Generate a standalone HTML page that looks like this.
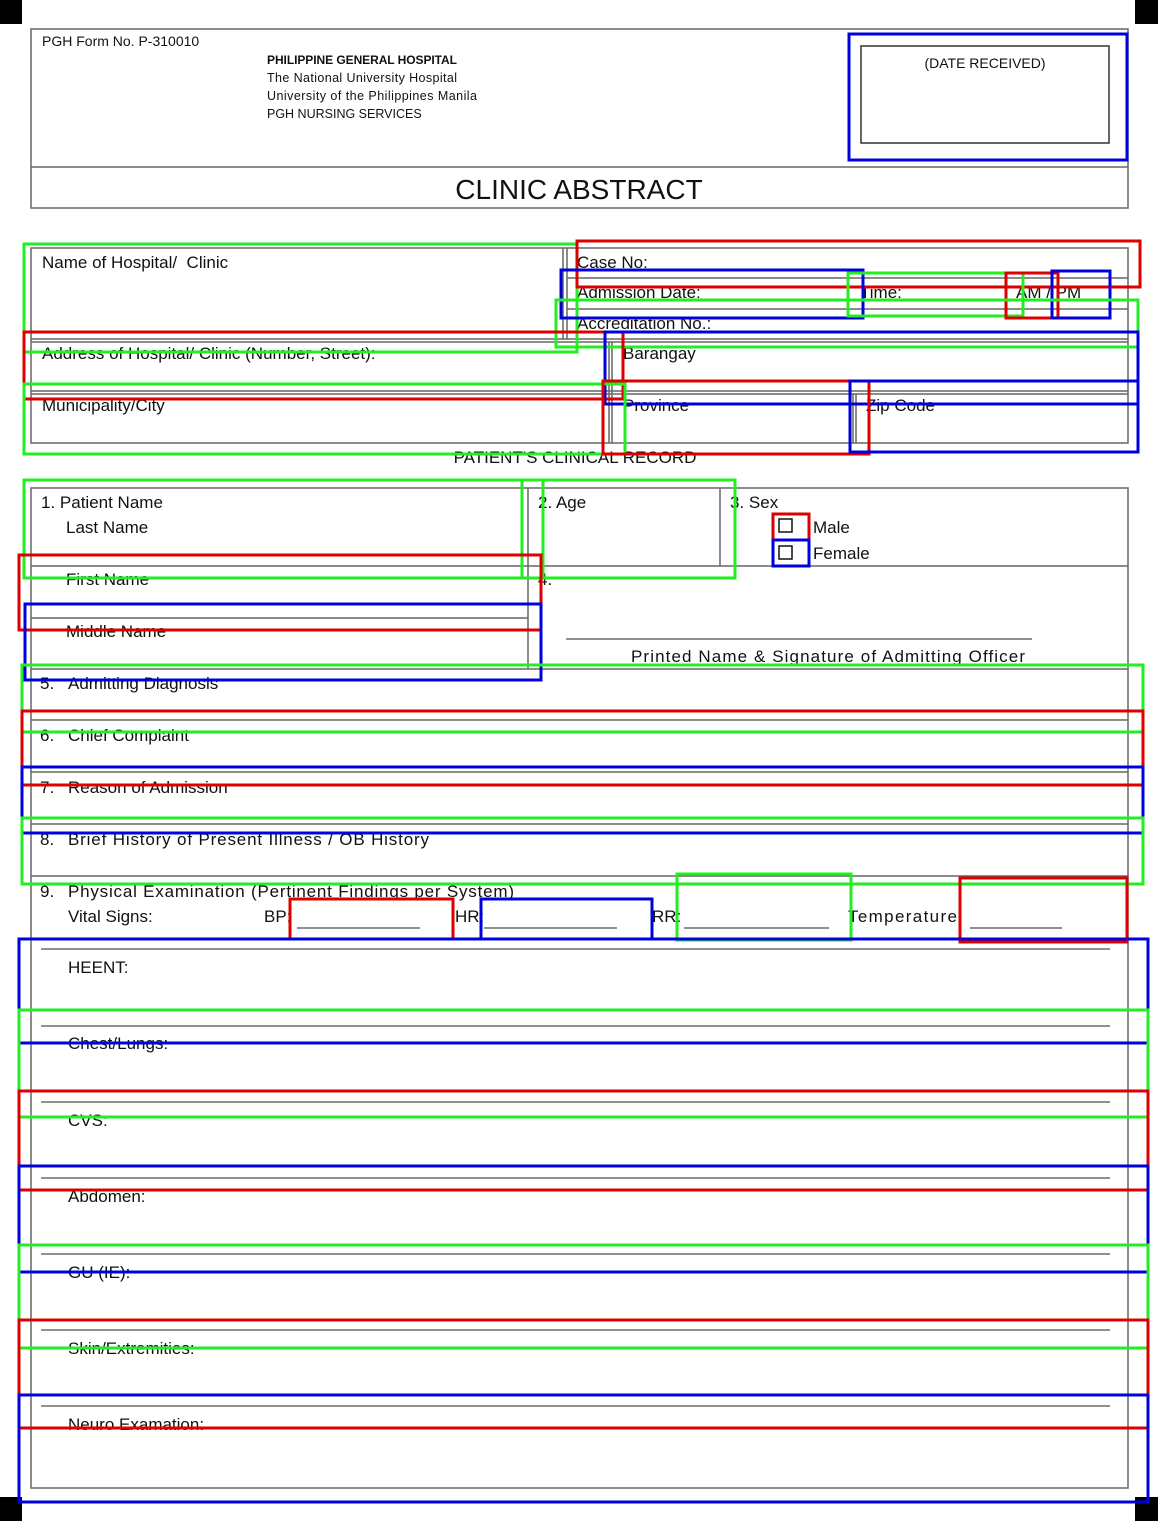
<!DOCTYPE html>
<html><head><meta charset="utf-8"><style>
html,body{margin:0;padding:0;background:#fff}
svg{display:block}
text{font-family:"Liberation Sans",sans-serif;fill:#111}
</style></head><body>
<svg width="1158" height="1521" viewBox="0 0 1158 1521" xmlns="http://www.w3.org/2000/svg">
<rect x="0" y="0" width="22" height="24" fill="#000"/>
<rect x="1135" y="0" width="23" height="24" fill="#000"/>
<rect x="0" y="1497" width="22" height="24" fill="#000"/>
<rect x="1135" y="1497" width="23" height="24" fill="#000"/>
<g fill="none" stroke="#666" stroke-width="1.5">
<rect x="31" y="29" width="1097" height="179"/>
<line x1="31" y1="167" x2="1128" y2="167"/>
<rect x="861" y="46" width="248" height="97" stroke="#333"/>
<rect x="31" y="248" width="1097" height="195"/>
<line x1="563" y1="248" x2="563" y2="339"/><line x1="567" y1="248" x2="567" y2="339"/>
<line x1="567" y1="278" x2="1128" y2="278"/><line x1="567" y1="309" x2="1128" y2="309"/>
<line x1="31" y1="339" x2="1128" y2="339"/><line x1="31" y1="342" x2="1128" y2="342"/>
<line x1="31" y1="391" x2="1128" y2="391"/><line x1="31" y1="394" x2="1128" y2="394"/>
<line x1="609" y1="342" x2="609" y2="443"/><line x1="612" y1="342" x2="612" y2="443"/>
<line x1="853" y1="394" x2="853" y2="443"/><line x1="856" y1="394" x2="856" y2="443"/>
<rect x="31" y="488" width="1097" height="1000"/>
<line x1="528" y1="488" x2="528" y2="669"/><line x1="720" y1="488" x2="720" y2="566"/>
<line x1="31" y1="566" x2="1128" y2="566"/>
<line x1="31" y1="618" x2="528" y2="618"/>
<line x1="31" y1="669" x2="1128" y2="669"/>
<line x1="31" y1="720" x2="1128" y2="720"/>
<line x1="31" y1="772" x2="1128" y2="772"/>
<line x1="31" y1="824" x2="1128" y2="824"/>
<line x1="31" y1="876" x2="1128" y2="876"/>
</g>
<g stroke="#222" stroke-width="1">
<line x1="566" y1="639" x2="1032" y2="639"/>
<line x1="297" y1="928" x2="420" y2="928"/>
<line x1="484" y1="928" x2="617" y2="928"/>
<line x1="684" y1="928" x2="829" y2="928"/>
<line x1="970" y1="928" x2="1062" y2="928"/>
<line x1="41" y1="949" x2="1110" y2="949"/>
<line x1="41" y1="1026" x2="1110" y2="1026"/>
<line x1="41" y1="1102" x2="1110" y2="1102"/>
<line x1="41" y1="1178" x2="1110" y2="1178"/>
<line x1="41" y1="1254" x2="1110" y2="1254"/>
<line x1="41" y1="1330" x2="1110" y2="1330"/>
<line x1="41" y1="1406" x2="1110" y2="1406"/>
</g>
<rect x="779" y="519" width="13" height="13" fill="none" stroke="#111" stroke-width="1.5"/>
<rect x="779" y="546" width="13" height="13" fill="none" stroke="#111" stroke-width="1.5"/>
<g font-size="14">
<text x="42" y="46">PGH Form No. P-310010</text>
<text x="267" y="64" font-size="12" font-weight="bold" textLength="190">PHILIPPINE GENERAL HOSPITAL</text>
<text x="267" y="82" font-size="12.5" textLength="190">The National University Hospital</text>
<text x="267" y="100" font-size="12.5" textLength="210">University of the Philippines Manila</text>
<text x="267" y="118" font-size="12.5">PGH NURSING SERVICES</text>
<text x="985" y="68" text-anchor="middle">(DATE RECEIVED)</text>
</g>
<text x="579" y="199" font-size="28" text-anchor="middle">CLINIC ABSTRACT</text>
<g font-size="17">
<text x="42" y="268" xml:space="preserve">Name of Hospital/  Clinic</text>
<text x="577" y="268">Case No:</text>
<text x="577" y="298">Admission Date:</text>
<text x="860" y="298">Time:</text>
<text x="1016" y="298">AM / PM</text>
<text x="577" y="329">Accreditation No.:</text>
<text x="42" y="359">Address of Hospital/ Clinic (Number, Street):</text>
<text x="623" y="359">Barangay</text>
<text x="42" y="411">Municipality/City</text>
<text x="623" y="411">Province</text>
<text x="866" y="411">Zip Code</text>
<text x="575" y="463" text-anchor="middle">PATIENT'S CLINICAL RECORD</text>
<text x="41" y="508">1. Patient Name</text>
<text x="66" y="533">Last Name</text>
<text x="538" y="508">2. Age</text>
<text x="730" y="508">3. Sex</text>
<text x="813" y="533">Male</text>
<text x="813" y="559">Female</text>
<text x="66" y="585">First Name</text>
<text x="538" y="585">4.</text>
<text x="66" y="637">Middle Name</text>
<text x="631" y="662" textLength="394">Printed Name &amp; Signature of Admitting Officer</text>
<text x="40" y="689">5.</text><text x="68" y="689">Admitting Diagnosis</text>
<text x="40" y="741">6.</text><text x="68" y="741">Chief Complaint</text>
<text x="40" y="793">7.</text><text x="68" y="793">Reason of Admission</text>
<text x="40" y="845">8.</text><text x="68" y="845" textLength="361">Brief History of Present Illness / OB History</text>
<text x="40" y="897">9.</text><text x="68" y="897" textLength="446">Physical Examination (Pertinent Findings per System)</text>
<text x="68" y="922">Vital Signs:</text>
<text x="264" y="922">BP:</text>
<text x="455" y="922">HR:</text>
<text x="652" y="922">RR:</text>
<text x="848" y="922" textLength="115">Temperature:</text>
<text x="68" y="973">HEENT:</text>
<text x="68" y="1049">Chest/Lungs:</text>
<text x="68" y="1126">CVS:</text>
<text x="68" y="1202">Abdomen:</text>
<text x="68" y="1278">GU (IE):</text>
<text x="68" y="1354">Skin/Extremities:</text>
<text x="68" y="1430">Neuro Examation:</text>
</g>
<g fill="none" stroke-width="3">
<rect x="849" y="34" width="278" height="126" stroke="#0000dd"/>
<rect x="24" y="244" width="553" height="108" stroke="#22ee22"/>
<rect x="577" y="241" width="563" height="46" stroke="#dd0000"/>
<rect x="561" y="270" width="302" height="48" stroke="#0000dd"/>
<rect x="848" y="273" width="175" height="43" stroke="#22ee22"/>
<rect x="1006" y="273" width="52" height="45" stroke="#dd0000"/>
<rect x="1052" y="271" width="58" height="47" stroke="#0000dd"/>
<rect x="556" y="300" width="582" height="47" stroke="#22ee22"/>
<rect x="24" y="332" width="599" height="67" stroke="#dd0000"/>
<rect x="605" y="332" width="533" height="72" stroke="#0000dd"/>
<rect x="24" y="384" width="601" height="70" stroke="#22ee22"/>
<rect x="603" y="381" width="266" height="73" stroke="#dd0000"/>
<rect x="850" y="381" width="288" height="71" stroke="#0000dd"/>
<rect x="24" y="480" width="519" height="98" stroke="#22ee22"/>
<rect x="522" y="480" width="213" height="98" stroke="#22ee22"/>
<rect x="773" y="514" width="36" height="26" stroke="#dd0000"/>
<rect x="773" y="540" width="36" height="26" stroke="#0000dd"/>
<rect x="19" y="555" width="522" height="75" stroke="#dd0000"/>
<rect x="25" y="604" width="516" height="76" stroke="#0000dd"/>
<rect x="22" y="665" width="1121" height="67" stroke="#22ee22"/>
<rect x="22" y="711" width="1121" height="74" stroke="#dd0000"/>
<rect x="22" y="767" width="1121" height="66" stroke="#0000dd"/>
<rect x="22" y="818" width="1121" height="66" stroke="#22ee22"/>
<rect x="290" y="899" width="163" height="40" stroke="#dd0000"/>
<rect x="481" y="899" width="171" height="40" stroke="#0000dd"/>
<rect x="677" y="874" width="174" height="66" stroke="#22ee22"/>
<rect x="960" y="878" width="167" height="64" stroke="#dd0000"/>
<rect x="19" y="939" width="1129" height="104" stroke="#0000dd"/>
<rect x="19" y="1010" width="1129" height="107" stroke="#22ee22"/>
<rect x="19" y="1091" width="1129" height="99" stroke="#dd0000"/>
<rect x="19" y="1166" width="1129" height="106" stroke="#0000dd"/>
<rect x="19" y="1245" width="1129" height="103" stroke="#22ee22"/>
<rect x="19" y="1320" width="1129" height="108" stroke="#dd0000"/>
<rect x="19" y="1395" width="1129" height="107" stroke="#0000dd"/>
</g>
</svg>
</body></html>
